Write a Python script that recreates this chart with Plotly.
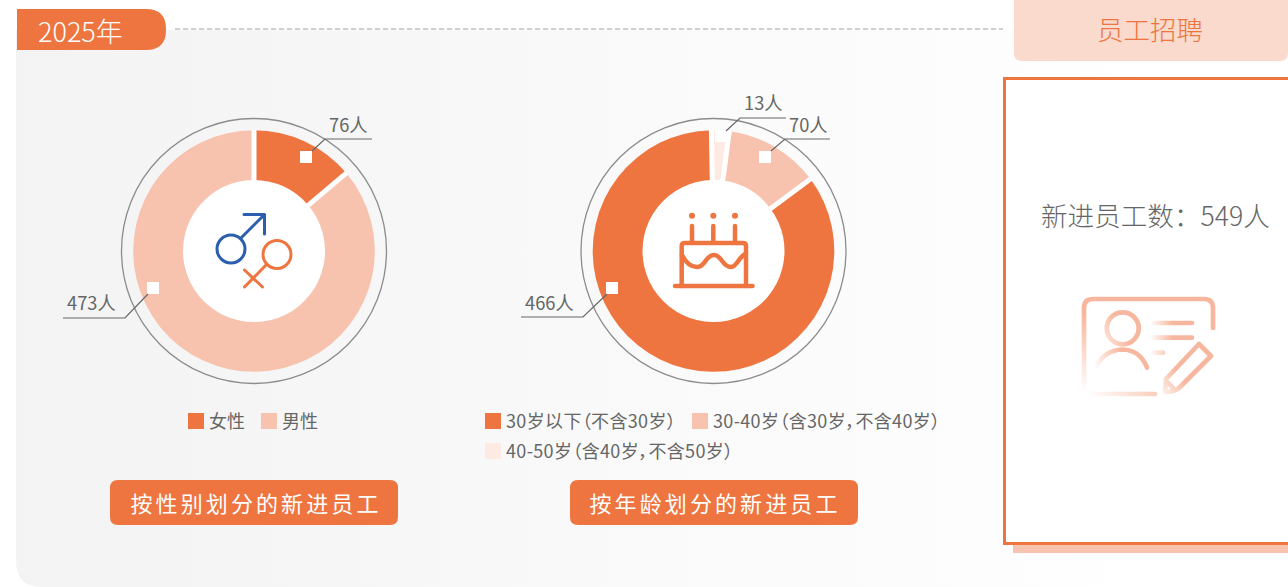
import base64
import math
import plotly.graph_objects as go

W, H = 1288, 587

gender_labels = ["女性", "男性"]
gender_values = [76, 473]
age_labels = ["30岁以下（不含30岁）", "30-40岁（含30岁，不含40岁）", "40-50岁（含40岁，不含50岁）"]
age_values = [466, 70, 13]
total_new_hires = 549
year_label = "2025年"
section_title = "员工招聘"
gender_title = "按性别划分的新进员工"
age_title = "按年龄划分的新进员工"

ORANGE = "#ee7540"
PEACH = "#f7c3ae"
PALE = "#fdeae3"
TXT = "#666666"
FONT = "Noto Sans CJK SC"


def fx(x):
    return x / W


def fy(y):
    return 1 - y / H


def rr_path(x0, y0, x1, y1, tl=0, tr=0, br=0, bl=0):
    p = [(x0 + tl, y0), (x1 - tr, y0), ("Q", x1, y0, x1, y0 + tr), (x1, y1 - br), ("Q", x1, y1, x1 - br, y1),
         (x0 + bl, y1), ("Q", x0, y1, x0, y1 - bl), (x0, y0 + tl), ("Q", x0, y0, x0 + tl, y0)]
    out = []
    for i, s in enumerate(p):
        if s[0] == "Q":
            out.append(f"Q{fx(s[1])},{fy(s[2])} {fx(s[3])},{fy(s[4])}")
        else:
            out.append(("M" if i == 0 else "L") + f"{fx(s[0])},{fy(s[1])}")
    return " ".join(out) + " Z"


shapes = []


def add_path(path, fill=None, line=None, lw=0, layer="below"):
    shapes.append(dict(type="path", xref="paper", yref="paper", path=path, fillcolor=fill or "rgba(0,0,0,0)",
                       line=dict(color=line or "rgba(0,0,0,0)", width=lw), layer=layer))


def add_rect(x0, y0, x1, y1, fill, layer="below", line=None, lw=0):
    shapes.append(dict(type="rect", xref="paper", yref="paper", x0=fx(x0), x1=fx(x1), y0=fy(y0), y1=fy(y1),
                       fillcolor=fill, line=dict(color=line or "rgba(0,0,0,0)", width=lw), layer=layer))


def add_circle(cx, cy, r, fill=None, line=None, lw=0, layer="below"):
    shapes.append(dict(type="circle", xref="paper", yref="paper", x0=fx(cx - r), x1=fx(cx + r), y0=fy(cy + r),
                       y1=fy(cy - r), fillcolor=fill or "rgba(0,0,0,0)",
                       line=dict(color=line or "rgba(0,0,0,0)", width=lw), layer=layer))


def add_poly(points, color="#666666", lw=1.2, layer="above", dash=None):
    path = " ".join(("M" if i == 0 else "L") + f"{fx(x)},{fy(y)}" for i, (x, y) in enumerate(points))
    line = dict(color=color, width=lw)
    if dash:
        line["dash"] = dash
    shapes.append(dict(type="path", xref="paper", yref="paper", path=path, line=line, layer=layer))


annotations = []


def add_text(x, y, text, size, color=TXT, anchor="left", weight=400):
    annotations.append(dict(xref="paper", yref="paper", x=fx(x), y=fy(y), text=text, showarrow=False,
                            xanchor=anchor, yanchor="middle", align=anchor, borderpad=0, borderwidth=0,
                            font=dict(family=FONT, size=size, color=color, weight=weight)))


# frame elements
add_poly([(175, 29), (1003, 29)], color="#9f9f9f", lw=1.2, layer="below", dash="5px,3px")
add_path(rr_path(17, 9, 166, 50, tr=20, br=20), fill=ORANGE)
add_path(rr_path(1014, -10, 1288, 61, br=8, bl=8), fill="#f9dacd")
add_rect(1013, 540, 1288, 553, PEACH)
add_rect(1004.5, 78.5, 1290, 543.5, "#ffffff", line=ORANGE, lw=3)
add_path(rr_path(110, 480, 398, 525, 8, 8, 8, 8), fill=ORANGE)
add_path(rr_path(570, 480, 858, 525, 8, 8, 8, 8), fill=ORANGE)

CY = 251
OUT_R, IN_R = 120.8, 71
C1, C2 = 254, 713.5
AGE_OFFSET = -1.0


def ring(cx, values, sign, offset=0.0):
    add_circle(cx, CY, 132.5, line="#8c8c8c", lw=1.3)
    add_circle(cx, CY, IN_R + 1, fill="#ffffff")
    angle = offset
    for v in values:
        a = math.radians(angle)
        add_poly([(cx + (IN_R - 1) * math.sin(a), CY - (IN_R - 1) * math.cos(a)),
                  (cx + (OUT_R + 0.3) * math.sin(a), CY - (OUT_R + 0.3) * math.cos(a))], color="#ffffff", lw=5)
        angle += sign * v / sum(values) * 360


ring(C1, gender_values, 1)
ring(C2, age_values, -1, AGE_OFFSET)


def pie(cx, labels, values, colors, direction, rotation):
    return go.Pie(labels=labels, values=values, sort=False, direction=direction, rotation=rotation,
                  hole=IN_R / OUT_R, textinfo="none", showlegend=False, hoverinfo="label+value",
                  marker=dict(colors=colors, line=dict(width=0)),
                  domain=dict(x=[fx(cx - OUT_R), fx(cx + OUT_R)], y=[fy(CY + OUT_R), fy(CY - OUT_R)]))


age_rotation = (age_values[1] + age_values[2]) / sum(age_values) * 360 + AGE_OFFSET
fig = go.Figure([pie(C1, gender_labels, gender_values, [ORANGE, PEACH], "clockwise", 0),
                 pie(C2, age_labels, age_values, [ORANGE, PEACH, PALE], "counterclockwise", age_rotation)])

# callouts: white marker, leader line, value label
callouts = [
    ((306, 157), [(312, 151), (325, 139), (372, 139)], (329, 123.5), gender_values[0]),
    ((153, 288), [(148, 294), (125, 318), (63, 318)], (67, 301.5), gender_values[1]),
    ((612, 288), [(607, 294), (583, 317), (521, 317)], (525, 301.5), age_values[0]),
    ((765, 157), [(771, 151), (785, 139), (830, 139)], (789, 123.5), age_values[1]),
    ((721, 136), [(726, 131), (740, 118), (786, 118)], (744, 102.5), age_values[2]),
]
for (mx, my), pts, (tx, ty), val in callouts:
    add_rect(mx - 6, my - 6, mx + 6, my + 6, "#ffffff", layer="above")
    add_poly(pts)
    add_text(tx, ty, f"{val}人", 18.3)

# legends
legend_items = [
    (188, 421, ORANGE, gender_labels[0]), (261, 421, PEACH, gender_labels[1]),
    (485, 421, ORANGE, age_labels[0]), (692, 421, PEACH, age_labels[1]), (485, 451, PALE, age_labels[2]),
]
for x, y, c, t in legend_items:
    add_rect(x, y - 8, x + 16, y + 8, c)
    add_text(x + 21, y - 1, t, 18)

add_text(38, 30, year_label, 27, color="#ffffff", weight=300)
add_text(1150, 28, section_title, 26.5, color=ORANGE, anchor="center", weight=300)
add_text(255.5, 502, gender_title, 22, color="#ffffff", anchor="center")
add_text(715, 502, age_title, 22, color="#ffffff", anchor="center")
add_text(1155, 214, f"新进员工数：{total_new_hires}人", 26.6, color="#666666", anchor="center", weight=300)

bg_svg = f"""<svg xmlns='http://www.w3.org/2000/svg' width='{W}' height='{H}' viewBox='0 0 {W} {H}'>
<defs><linearGradient id='g' x1='16' x2='1160' y1='0' y2='0' gradientUnits='userSpaceOnUse'>
<stop offset='0' stop-color='#f3f3f3'/><stop offset='1' stop-color='#ffffff'/></linearGradient></defs>
<path d='M16 30 H1288 V587 H42 Q16 587 16 561 Z' fill='url(#g)'/></svg>"""

C = "#f7b79e"


def grad(i, x1, y1, x2, y2):
    return (f"<linearGradient id='{i}' x1='{x1}' y1='{y1}' x2='{x2}' y2='{y2}' gradientUnits='userSpaceOnUse'>"
            f"<stop offset='0' stop-color='{C}' stop-opacity='0'/><stop offset='1' stop-color='{C}'/></linearGradient>")


icon_svg = f"""<svg xmlns='http://www.w3.org/2000/svg' width='{W}' height='{H}' viewBox='0 0 {W} {H}'>
<defs>{grad('card', 1088, 395, 1125, 345)}{grad('head', 1096, 350, 1125, 335)}{grad('body', 1094, 368, 1122, 352)}
{grad('lines', 1150, 0, 1172, 0)}{grad('pen', 1158, 397, 1182, 378)}</defs>
<g fill='none' stroke-linecap='round' stroke-linejoin='round'>
<g stroke='#2b5fad' stroke-width='3'><circle cx='231' cy='249' r='14'/>
<path d='M241 238 L264.5 214.5 M244 214.5 H264.5 V234'/></g>
<g stroke='{ORANGE}' stroke-width='3'><circle cx='277' cy='254.5' r='14'/>
<path d='M266 265 L244.5 287 M244.5 270 L262.5 287'/></g>
<g stroke='{ORANGE}' stroke-width='4.5'><path d='M675 286 H752.5'/>
<path d='M681.7 286 V246 Q681.7 243 684.7 243 H743 Q746 243 746 246 V286'/>
<path d='M692 226 V242 M713.3 226 V242 M735 226 V242'/>
<path d='M682 255 C686 263 691 267 697 267 C706 267 705 255 714 255 C722 255 722 267 731 267 C737 267 738 258 745 254'/></g>
<g fill='{ORANGE}'><circle cx='692' cy='215.7' r='3'/><circle cx='713.3' cy='215.7' r='3'/><circle cx='735' cy='215.7' r='3'/></g>
<g stroke-width='4.7'>
<path stroke='url(#card)' d='M1155 394 H1093 Q1084 394 1084 385 V308 Q1084 299 1093 299 H1204 Q1213 299 1213 308 V328'/>
<circle stroke='url(#head)' cx='1122.7' cy='328.3' r='16'/>
<path stroke='url(#body)' d='M1096 367 Q1104 350 1122.7 349.5 Q1140 350 1147 367.5'/>
<path stroke='url(#lines)' d='M1152 323 L1192 323.01 M1152 337.7 L1192 337.71 M1152 352.7 L1163 352.71'/>
<path stroke='url(#pen)' d='M1166 379 L1199 344 L1211 356 L1179 388 Q1174 392 1165 392 Z M1167 382 L1173 388'/></g>
</g></svg>"""


def uri(svg):
    return "data:image/svg+xml;base64," + base64.b64encode(svg.encode()).decode()


def full_image(svg, layer):
    return dict(source=uri(svg), xref="paper", yref="paper", x=0, y=1, sizex=1, sizey=1, xanchor="left",
                yanchor="top", sizing="stretch", layer=layer)


fig.update_layout(width=W, height=H, autosize=False, margin=dict(l=0, r=0, t=0, b=0), paper_bgcolor="#ffffff",
                  shapes=shapes, annotations=annotations, font=dict(family=FONT),
                  images=[full_image(bg_svg, "below"), full_image(icon_svg, "above")])

post = """
document.documentElement.style.overflow='hidden';
document.body.style.margin='0';
document.querySelectorAll('.annotation-text').forEach(function(t){
  if(t.textContent.indexOf('划分的新进员工')>=0){t.style.letterSpacing='3.1px';}
  if(t.textContent.indexOf('（')>=0){t.style.fontFeatureSettings='"palt"';t.style.letterSpacing='0.35px';}
});
"""
fig.write_html("out.html", post_script=post, config=dict(displayModeBar=False))
